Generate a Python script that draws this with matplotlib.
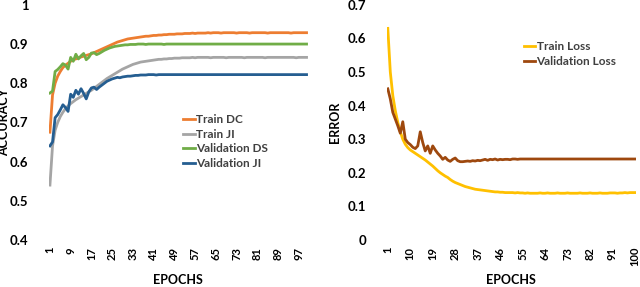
import numpy as np
import matplotlib
matplotlib.use("Agg")
import matplotlib.pyplot as plt

plt.rcParams['font.family'] = ['Lato', 'DejaVu Sans']
plt.rcParams['font.weight'] = 'bold'

# accuracy curves (left)
train_dc = [
    0.675, 0.770, 0.800, 0.818, 0.830, 0.840, 0.846, 0.851, 0.856, 0.860,
    0.862, 0.865, 0.867, 0.869, 0.871, 0.873, 0.875, 0.878, 0.881, 0.884,
    0.887, 0.890, 0.893, 0.896, 0.899, 0.902, 0.905, 0.907, 0.909, 0.911,
    0.913, 0.914, 0.915, 0.916, 0.917, 0.918, 0.919, 0.920, 0.920, 0.921,
    0.922, 0.922, 0.923, 0.923, 0.924, 0.924, 0.925, 0.925, 0.925, 0.926,
    0.926, 0.926, 0.927, 0.927, 0.927, 0.928, 0.927, 0.928, 0.928, 0.928,
    0.928, 0.929, 0.928, 0.929, 0.929, 0.929, 0.928, 0.929, 0.929, 0.929,
    0.929, 0.929, 0.928, 0.929, 0.929, 0.929, 0.929, 0.928, 0.929, 0.929,
    0.929, 0.929, 0.929, 0.929, 0.928, 0.929, 0.929, 0.929, 0.929, 0.929,
    0.929, 0.929, 0.929, 0.928, 0.929, 0.929, 0.929, 0.929, 0.929, 0.929,
]
train_ji = [
    0.540, 0.640, 0.680, 0.700, 0.715, 0.726, 0.735, 0.742, 0.748, 0.753,
    0.758, 0.762, 0.766, 0.770, 0.774, 0.778, 0.782, 0.787, 0.792, 0.797,
    0.802, 0.807, 0.812, 0.816, 0.820, 0.824, 0.828, 0.832, 0.836, 0.839,
    0.842, 0.845, 0.848, 0.850, 0.852, 0.854, 0.855, 0.856, 0.857, 0.858,
    0.859, 0.860, 0.861, 0.861, 0.862, 0.862, 0.863, 0.863, 0.864, 0.864,
    0.864, 0.865, 0.865, 0.865, 0.865, 0.866, 0.865, 0.866, 0.866, 0.866,
    0.866, 0.866, 0.865, 0.866, 0.866, 0.866, 0.866, 0.866, 0.865, 0.866,
    0.866, 0.866, 0.866, 0.866, 0.866, 0.865, 0.866, 0.866, 0.866, 0.866,
    0.866, 0.866, 0.866, 0.865, 0.866, 0.866, 0.866, 0.866, 0.866, 0.866,
    0.866, 0.866, 0.866, 0.866, 0.866, 0.865, 0.866, 0.866, 0.866, 0.866,
]
val_ds = [
    0.775, 0.780, 0.830, 0.835, 0.842, 0.850, 0.846, 0.836, 0.866, 0.856,
    0.874, 0.862, 0.870, 0.876, 0.860, 0.866, 0.877, 0.878, 0.873, 0.876,
    0.880, 0.884, 0.887, 0.890, 0.892, 0.894, 0.895, 0.896, 0.897, 0.898,
    0.898, 0.899, 0.899, 0.899, 0.900, 0.900, 0.900, 0.899, 0.900, 0.900,
    0.900, 0.900, 0.900, 0.900, 0.899, 0.900, 0.900, 0.900, 0.900, 0.900,
    0.900, 0.900, 0.900, 0.900, 0.900, 0.900, 0.900, 0.900, 0.900, 0.900,
    0.900, 0.900, 0.900, 0.900, 0.900, 0.900, 0.900, 0.900, 0.900, 0.900,
    0.900, 0.900, 0.900, 0.900, 0.900, 0.900, 0.900, 0.900, 0.900, 0.900,
    0.900, 0.900, 0.900, 0.900, 0.900, 0.900, 0.900, 0.900, 0.900, 0.900,
    0.900, 0.900, 0.900, 0.900, 0.900, 0.900, 0.900, 0.900, 0.900, 0.900,
]
val_ji = [
    0.640, 0.650, 0.712, 0.720, 0.732, 0.745, 0.738, 0.728, 0.772, 0.764,
    0.782, 0.772, 0.786, 0.774, 0.760, 0.778, 0.788, 0.790, 0.784, 0.790,
    0.795, 0.800, 0.805, 0.808, 0.811, 0.813, 0.815, 0.814, 0.816, 0.817,
    0.818, 0.818, 0.819, 0.820, 0.820, 0.821, 0.821, 0.821, 0.822, 0.822,
    0.822, 0.821, 0.822, 0.822, 0.822, 0.822, 0.822, 0.822, 0.822, 0.822,
    0.822, 0.822, 0.822, 0.822, 0.822, 0.822, 0.822, 0.822, 0.822, 0.822,
    0.822, 0.822, 0.822, 0.822, 0.822, 0.822, 0.822, 0.822, 0.822, 0.822,
    0.822, 0.822, 0.822, 0.822, 0.822, 0.822, 0.822, 0.822, 0.822, 0.822,
    0.822, 0.822, 0.822, 0.822, 0.822, 0.822, 0.822, 0.822, 0.822, 0.822,
    0.822, 0.822, 0.822, 0.822, 0.822, 0.822, 0.822, 0.822, 0.822, 0.822,
]

# loss curves (right)
train_loss = [
    0.630, 0.500, 0.430, 0.385, 0.350, 0.322, 0.300, 0.285, 0.275, 0.268,
    0.263, 0.258, 0.253, 0.248, 0.243, 0.238, 0.232, 0.226, 0.220, 0.213,
    0.206, 0.200, 0.195, 0.190, 0.186, 0.180, 0.175, 0.171, 0.168, 0.165,
    0.162, 0.159, 0.157, 0.155, 0.153, 0.151, 0.150, 0.149, 0.148, 0.147,
    0.146, 0.145, 0.144, 0.143, 0.143, 0.142, 0.142, 0.141, 0.141, 0.141,
    0.141, 0.140, 0.141, 0.140, 0.140, 0.139, 0.140, 0.139, 0.139, 0.139,
    0.139, 0.140, 0.139, 0.139, 0.140, 0.139, 0.139, 0.139, 0.140, 0.139,
    0.139, 0.139, 0.140, 0.139, 0.139, 0.139, 0.139, 0.140, 0.139, 0.139,
    0.139, 0.140, 0.139, 0.139, 0.139, 0.140, 0.139, 0.139, 0.139, 0.140,
    0.140, 0.140, 0.139, 0.140, 0.140, 0.141, 0.140, 0.141, 0.141, 0.141,
]
val_loss = [
    0.450, 0.420, 0.380, 0.360, 0.340, 0.318, 0.352, 0.300, 0.290, 0.284,
    0.276, 0.272, 0.280, 0.322, 0.290, 0.265, 0.280, 0.258, 0.280, 0.268,
    0.258, 0.250, 0.240, 0.246, 0.238, 0.234, 0.240, 0.244, 0.236, 0.233,
    0.233, 0.234, 0.235, 0.234, 0.236, 0.235, 0.237, 0.236, 0.238, 0.240,
    0.237, 0.240, 0.239, 0.241, 0.238, 0.240, 0.239, 0.240, 0.240, 0.239,
    0.241, 0.241, 0.240, 0.241, 0.241, 0.241, 0.241, 0.241, 0.241, 0.241,
    0.241, 0.241, 0.241, 0.241, 0.241, 0.241, 0.241, 0.241, 0.241, 0.241,
    0.241, 0.241, 0.241, 0.241, 0.241, 0.241, 0.241, 0.241, 0.241, 0.241,
    0.241, 0.241, 0.241, 0.241, 0.241, 0.241, 0.241, 0.241, 0.241, 0.241,
    0.241, 0.241, 0.241, 0.241, 0.241, 0.241, 0.241, 0.241, 0.241, 0.241,
]

epochs = np.arange(1, 101)
acc_ticks = list(range(1, 101, 8))
loss_ticks = list(range(1, 101, 9))


def style_axes(ax, ylabel, xticks, ylim, yticks):
    for s in ax.spines.values():
        s.set_visible(False)
    ax.set_xlim(0.5, 100.5)
    ax.set_ylim(*ylim)
    ax.set_xticks(xticks)
    ax.set_xticklabels([str(t) for t in xticks], rotation=90, fontsize=8)
    ax.set_yticks(yticks)
    ax.set_yticklabels([("%g" % t) for t in yticks], fontsize=9.5)
    ax.tick_params(axis='both', length=0)
    ax.tick_params(axis='y', pad=14.5)
    ax.tick_params(axis='x', pad=5)
    ax.set_xlabel("EPOCHS", fontsize=9, fontweight='bold')
    ax.xaxis.set_label_coords(0.5, -0.145)
    ax.set_ylabel(ylabel, fontsize=9, fontweight='bold', labelpad=0)


fig = plt.figure(figsize=(6.4, 2.87), dpi=100)
ax1 = fig.add_axes([0.076, 0.164, 0.405, 0.819])
ax2 = fig.add_axes([0.604, 0.164, 0.39, 0.819])

lw = 2.0
ax1.plot(epochs, train_dc, color="#ED7D31", lw=lw, label="Train DC")
ax1.plot(epochs, train_ji, color="#A5A5A5", lw=lw, label="Train JI")
ax1.plot(epochs, val_ds, color="#70AD47", lw=lw, label="Validation DS")
ax1.plot(epochs, val_ji, color="#255E91", lw=lw, label="Validation JI")
style_axes(ax1, "ACCURACY", acc_ticks, (0.4, 1.0),
           [0.4, 0.5, 0.6, 0.7, 0.8, 0.9, 1])
ax1.yaxis.set_label_coords(-0.147, 0.5)
ax1.legend(loc="upper left", bbox_to_anchor=(0.5, 0.555), frameon=False,
           fontsize=8.5, handlelength=1.0, handletextpad=0.1,
           labelspacing=0.3, borderaxespad=0, labelcolor="#404040")

ax2.plot(epochs, train_loss, color="#FFC000", lw=lw, label="Train Loss")
ax2.plot(epochs, val_loss, color="#9E480E", lw=lw, label="Validation Loss")
style_axes(ax2, "ERROR", loss_ticks, (0, 0.7),
           [0, 0.1, 0.2, 0.3, 0.4, 0.5, 0.6, 0.7])
ax2.yaxis.set_label_coords(-0.183, 0.5)
ax2.legend(loc="upper left", bbox_to_anchor=(0.53, 0.865), frameon=False,
           fontsize=8.5, handlelength=1.0, handletextpad=0.1,
           labelspacing=0.3, borderaxespad=0, labelcolor="#404040")

fig.savefig("out.png", dpi=100)
